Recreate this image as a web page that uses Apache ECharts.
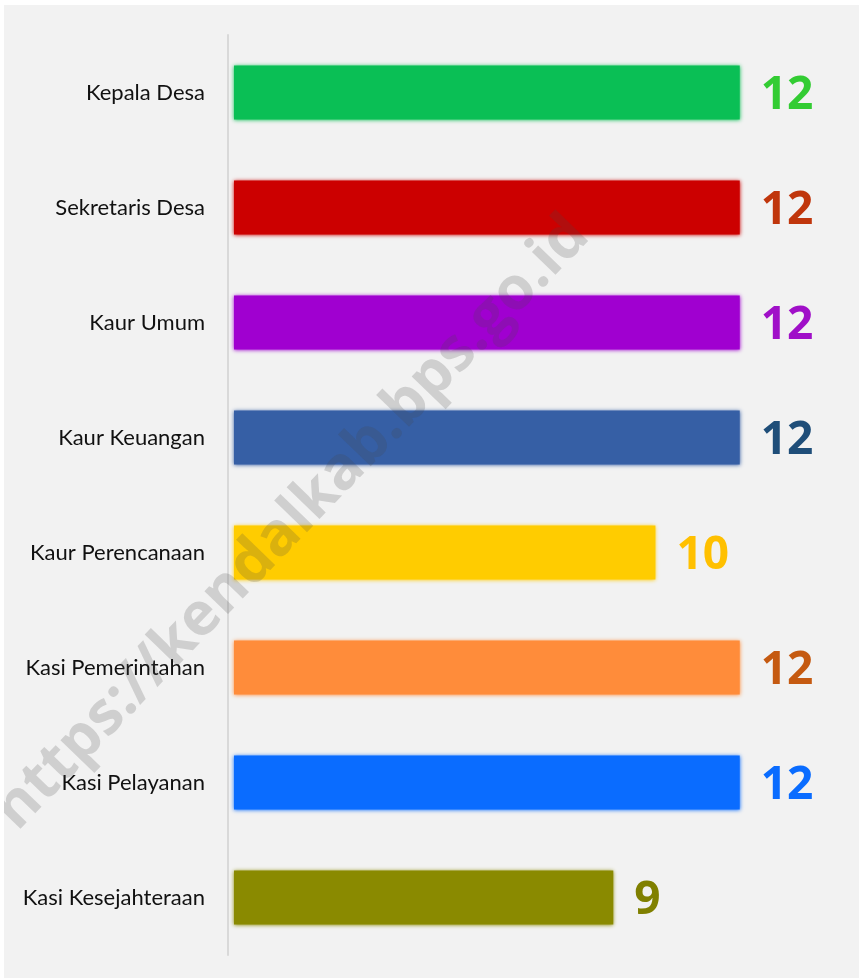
<!DOCTYPE html>
<html>
<head>
<meta charset="utf-8">
<script src="https://cdn.jsdelivr.net/npm/echarts@6/dist/echarts.min.js"></script>
<style>
    html, body { margin: 0; padding: 0; background: #ffffff; }
    #chart { position: absolute; left: 4px; top: 5px; width: 855px; height: 973px; background: #f2f2f2; }
</style>
</head>
<body>
<div id="chart"></div>
<script>
    // Jumlah perangkat desa per jabatan
    const categories = ['Kepala Desa', 'Sekretaris Desa', 'Kaur Umum', 'Kaur Keuangan', 'Kaur Perencanaan', 'Kasi Pemerintahan', 'Kasi Pelayanan', 'Kasi Kesejahteraan'];
    const values = [12, 12, 12, 12, 10, 12, 12, 9];
    const barColors = ['#0abf55', '#cc0000', '#a000d0', '#365fa5', '#ffcc00', '#ff8c3a', '#0a6cff', '#8a8a00'];
    const labelColors = ['#33cc33', '#c0360c', '#a010c8', '#1f4e79', '#ffc000', '#c55a11', '#0a6cff', '#808000'];

    const chartDom = document.getElementById('chart');
    const myChart = echarts.init(chartDom);

    const seriesData = values.map((v, i) => ({
        value: v,
        itemStyle: {
            color: barColors[i],
            shadowColor: barColors[i],
            shadowBlur: 4
        },
        label: {
            color: labelColors[i]
        }
    }));

    const option = {
        backgroundColor: '#f2f2f2',
        grid: {
            left: 230,
            right: 35,
            top: 30,
            bottom: 23
        },
        xAxis: {
            type: 'value',
            min: 0,
            max: 14,
            show: false
        },
        yAxis: {
            type: 'category',
            inverse: true,
            data: categories,
            offset: 6,
            axisLine: {
                show: true,
                onZero: false,
                lineStyle: { color: '#d9d9d9', width: 2 }
            },
            axisTick: { show: false },
            axisLabel: {
                color: '#111111',
                fontFamily: 'Lato',
                fontSize: 22,
                margin: 23
            }
        },
        series: [{
            type: 'bar',
            barWidth: 54,
            data: seriesData,
            label: {
                show: true,
                position: 'right',
                distance: 21,
                offset: [0, 3],
                fontFamily: 'Open Sans',
                fontWeight: 'bold',
                fontSize: 46
            }
        }],
        graphic: [{
            type: 'text',
            x: 288,
            y: 518,
            rotation: 46 * Math.PI / 180,
            silent: true,
            z: 100,
            style: {
                text: 'https://kendalkab.bps.go.id',
                fontFamily: 'Open Sans',
                fontWeight: 'bold',
                fontSize: 60,
                fill: 'rgba(70,70,70,0.2)',
                align: 'center',
                verticalAlign: 'middle'
            }
        }]
    };

    option && myChart.setOption(option);
    window.addEventListener('resize', () => {
        myChart.resize();
    });
</script>
</body>
</html>
